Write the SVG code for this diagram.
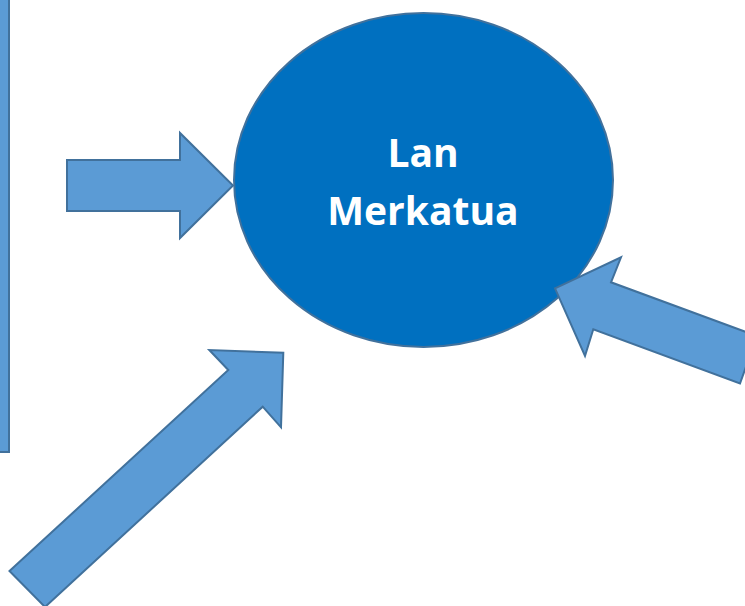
<svg xmlns="http://www.w3.org/2000/svg" width="745" height="606" viewBox="0 0 745 606">
  <style>
    .shape { fill: #5B9BD5; stroke: #41719C; stroke-width: 2; stroke-linejoin: miter; }
    .node { fill: #0070C0; stroke: #41719C; stroke-width: 2; }
    .label { font-family: "Open Sans", "Liberation Sans", sans-serif; font-weight: bold; font-size: 39px; fill: #FFFFFF; text-anchor: middle; }
  </style>
  <rect width="745" height="606" fill="#FFFFFF"/>
  <g id="left-bar">
    <rect class="shape" x="-10" y="-10" width="19" height="462"/>
  </g>
  <g id="lan-merkatua">
    <ellipse class="node" cx="423.5" cy="180" rx="189.5" ry="167"/>
    <text class="label" x="423" y="167">Lan</text>
    <text class="label" x="423" y="225">Merkatua</text>
  </g>
  <g id="connectors">
    <polygon id="arrow-left" class="shape" points="67,160 180,160 180,133 233,185.5 180,238 180,211 67,211"/>
    <polygon id="arrow-bottom" class="shape" points="9.5,571 228.3,370 209.3,350 283.3,352.7 281,427.3 262.7,406.7 45,607"/>
    <polygon id="arrow-right" class="shape" points="555,288.3 621,257.3 611,282.3 757,336 740,383.5 593.3,329.3 585,356"/>
  </g>
</svg>
